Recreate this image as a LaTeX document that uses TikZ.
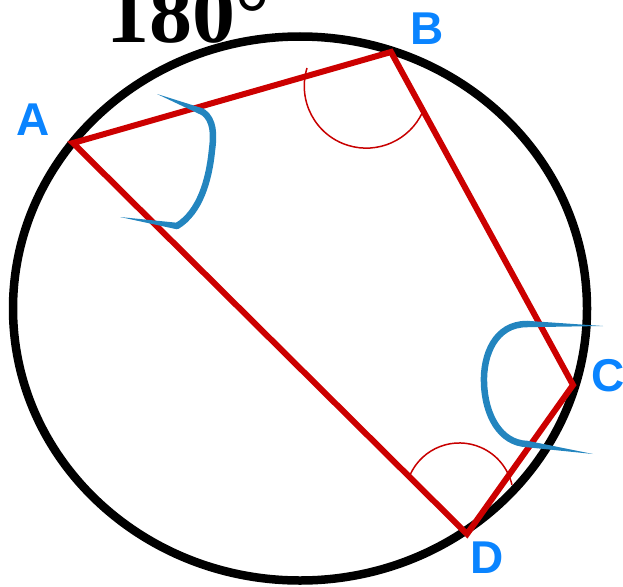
\documentclass[tikz,border=0pt]{standalone}
\usepackage{fontspec}
\setmainfont{Liberation Sans}
\newfontfamily\numfont{Liberation Serif}
\definecolor{qred}{RGB}{204,0,0}
\definecolor{dred}{RGB}{200,0,0}
\definecolor{bblue}{RGB}{35,133,191}
\definecolor{lblue}{RGB}{10,132,255}
\begin{document}
\begin{tikzpicture}[x=1pt,y=-1pt,
  circ/.style={draw=black, line width=8.5pt},
  quad/.style={draw=qred, line width=6pt, line join=miter},
  angarc/.style={draw=dred, line width=1.5pt},
  brush/.style={draw=bblue, line width=6.5pt, line cap=round},
  tail/.style={fill=bblue},
  lbl/.style={text=lblue, font=\bfseries\fontsize{46}{46}\selectfont, inner sep=0pt},
  title/.style={font=\numfont\bfseries\fontsize{86}{86}\selectfont, inner sep=0pt, anchor=base west}]
\useasboundingbox (0,0) rectangle (623,586);
\coordinate (O) at (300,308.5);
\coordinate (A) at (73,143);
\coordinate (B) at (391,52);
\coordinate (C) at (573,385);
\coordinate (D) at (467,534);
\draw[circ] (O) ellipse [x radius=287, y radius=272];
\draw[quad] (A) -- (B) -- (C) -- (D) -- cycle;
% angle arcs
\draw[angarc] (307,68) arc[start angle=197, end angle=25, radius=62];
\draw[angarc] (410,475) arc[start angle=204, end angle=347, radius=54];
% blue brush at A
\draw[brush] (203,112) .. controls (214,120) and (214,135) .. (212,150)
  .. controls (209,180) and (200,212) .. (177,226);
\fill[tail] (157,94) -- (201.8,115.2) -- (204.2,108.8) -- cycle;
\fill[tail] (120,217) -- (176.5,229.2) -- (177.5,222.8) -- cycle;
% blue brush at C
\draw[brush] (527,324) .. controls (495,324) and (483,355) .. (484,383)
  .. controls (485,415) and (500,443) .. (527,444);
\fill[tail] (603,326) -- (527,320.8) -- (527,327.2) -- cycle;
\fill[tail] (593,454) -- (527.5,440.8) -- (526.5,447.2) -- cycle;
% labels
\node[lbl] (la) at (33,120) {A};
\node[lbl] (lb) at (427,29) {B};
\node[lbl] (lc) at (608,376) {C};
\node[lbl] (ld) at (487,558) {D};
\node[title] (t) at (106,42) {180°};
\end{tikzpicture}
\end{document}
